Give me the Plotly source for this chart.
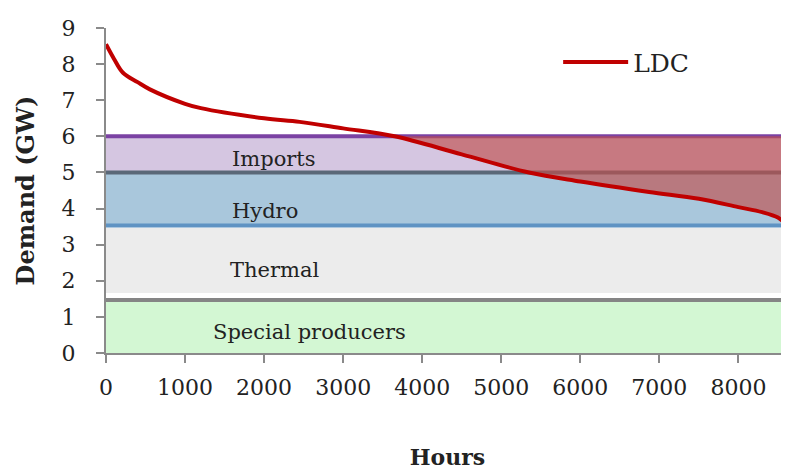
import plotly.graph_objects as go

# Load duration curve (hours, GW)
ldc_hours = [0, 100, 215, 400, 555, 1000, 1200, 2000, 2450, 3000, 3650, 4500, 5350, 6000, 6870, 7500, 8000, 8300, 8500, 8580, 8640]
ldc_gw = [8.55, 8.15, 7.76, 7.5, 7.3, 6.9, 6.78, 6.5, 6.4, 6.22, 6.0, 5.5, 5.0, 4.75, 4.46, 4.27, 4.04, 3.9, 3.75, 3.6, 3.3]

# Generation bands
band_names = ["Special producers", "Thermal", "Hydro", "Imports"]
band_low = [0.0, 1.66, 3.52, 5.0]
band_high = [1.43, 3.47, 5.0, 6.0]
band_fill = ["#d3f7d3", "#ececec", "#a9c7dc", "#d5c6e1"]
band_label_x = [2580, 2130, 2010, 2130]
band_label_y = [0.58, 2.3, 3.93, 5.37]

# Boundary lines
line_levels = [1.47, 3.53, 5.0, 6.0]
line_colors = ["#858585", "#5f93c3", "#5a6878", "#7b42a3"]

x_max = 8640
serif = "DejaVu Serif"

fig = go.Figure()

for lo, hi, col in zip(band_low, band_high, band_fill):
    fig.add_trace(go.Scatter(x=[0, x_max], y=[lo, lo], mode="lines", line=dict(width=0),
                             showlegend=False, hoverinfo="skip"))
    fig.add_trace(go.Scatter(x=[0, x_max], y=[hi, hi], mode="lines", line=dict(width=0),
                             fill="tonexty", fillcolor=col, showlegend=False, hoverinfo="skip"))

for lv, col in zip(line_levels, line_colors):
    fig.add_trace(go.Scatter(x=[0, x_max], y=[lv, lv], mode="lines", line=dict(color=col, width=4),
                             showlegend=False, hoverinfo="skip"))

# Red shortfall area between import ceiling and LDC
cap = band_high[-1]
seg_x = [h for h, v in zip(ldc_hours, ldc_gw) if v <= cap]
seg_y = [v for v in ldc_gw if v <= cap]
fig.add_trace(go.Scatter(x=seg_x, y=[cap] * len(seg_x), mode="lines", line=dict(width=0),
                         showlegend=False, hoverinfo="skip"))
fig.add_trace(go.Scatter(x=seg_x, y=seg_y, mode="lines", line=dict(width=0, shape="spline"),
                         fill="tonexty", fillcolor="rgba(192,80,77,0.65)", showlegend=False, hoverinfo="skip"))

fig.add_trace(go.Scatter(x=ldc_hours, y=ldc_gw, mode="lines", name="LDC",
                         line=dict(color="#c00000", width=4, shape="spline")))

for name, lx, ly in zip(band_names, band_label_x, band_label_y):
    fig.add_annotation(x=lx, y=ly, text=name, showarrow=False,
                       font=dict(family=serif, size=21, color="#222"))

fig.update_layout(
    width=781, height=462,
    margin=dict(l=98, r=0, t=20, b=117),
    paper_bgcolor="white", plot_bgcolor="white",
    font=dict(family=serif, color="#222"),
    legend=dict(x=0.662, y=0.895, xanchor="left", yanchor="middle", itemwidth=65,
                font=dict(family=serif, size=25), bgcolor="rgba(0,0,0,0)"),
    xaxis=dict(range=[0, x_max], tickvals=[0, 1000, 2000, 3000, 4000, 5000, 6000, 7000, 8000],
               automargin=False,
               showgrid=False, zeroline=False, showline=True, linecolor="#8a8a8a", linewidth=2,
               ticks="outside", ticklen=8, tickcolor="#8a8a8a", tickwidth=2,
               tickfont=dict(family=serif, size=22), ticklabelstandoff=6,
               title=dict(text="<b>Hours</b>", font=dict(family=serif, size=22), standoff=52)),
    yaxis=dict(range=[0, 9], dtick=1, showgrid=False, zeroline=False, showline=True, automargin=False,
               linecolor="#8a8a8a", linewidth=2, ticks="outside", ticklen=8, tickcolor="#8a8a8a",
               tickwidth=2, tickfont=dict(family=serif, size=22), ticklabelstandoff=16,
               title=dict(text="<b>Demand (GW)</b>", font=dict(family=serif, size=24), standoff=20)),
)

fig.write_html(
    "out.html",
    post_script="document.documentElement.style.overflow='hidden';document.body.style.overflow='hidden';",
)
